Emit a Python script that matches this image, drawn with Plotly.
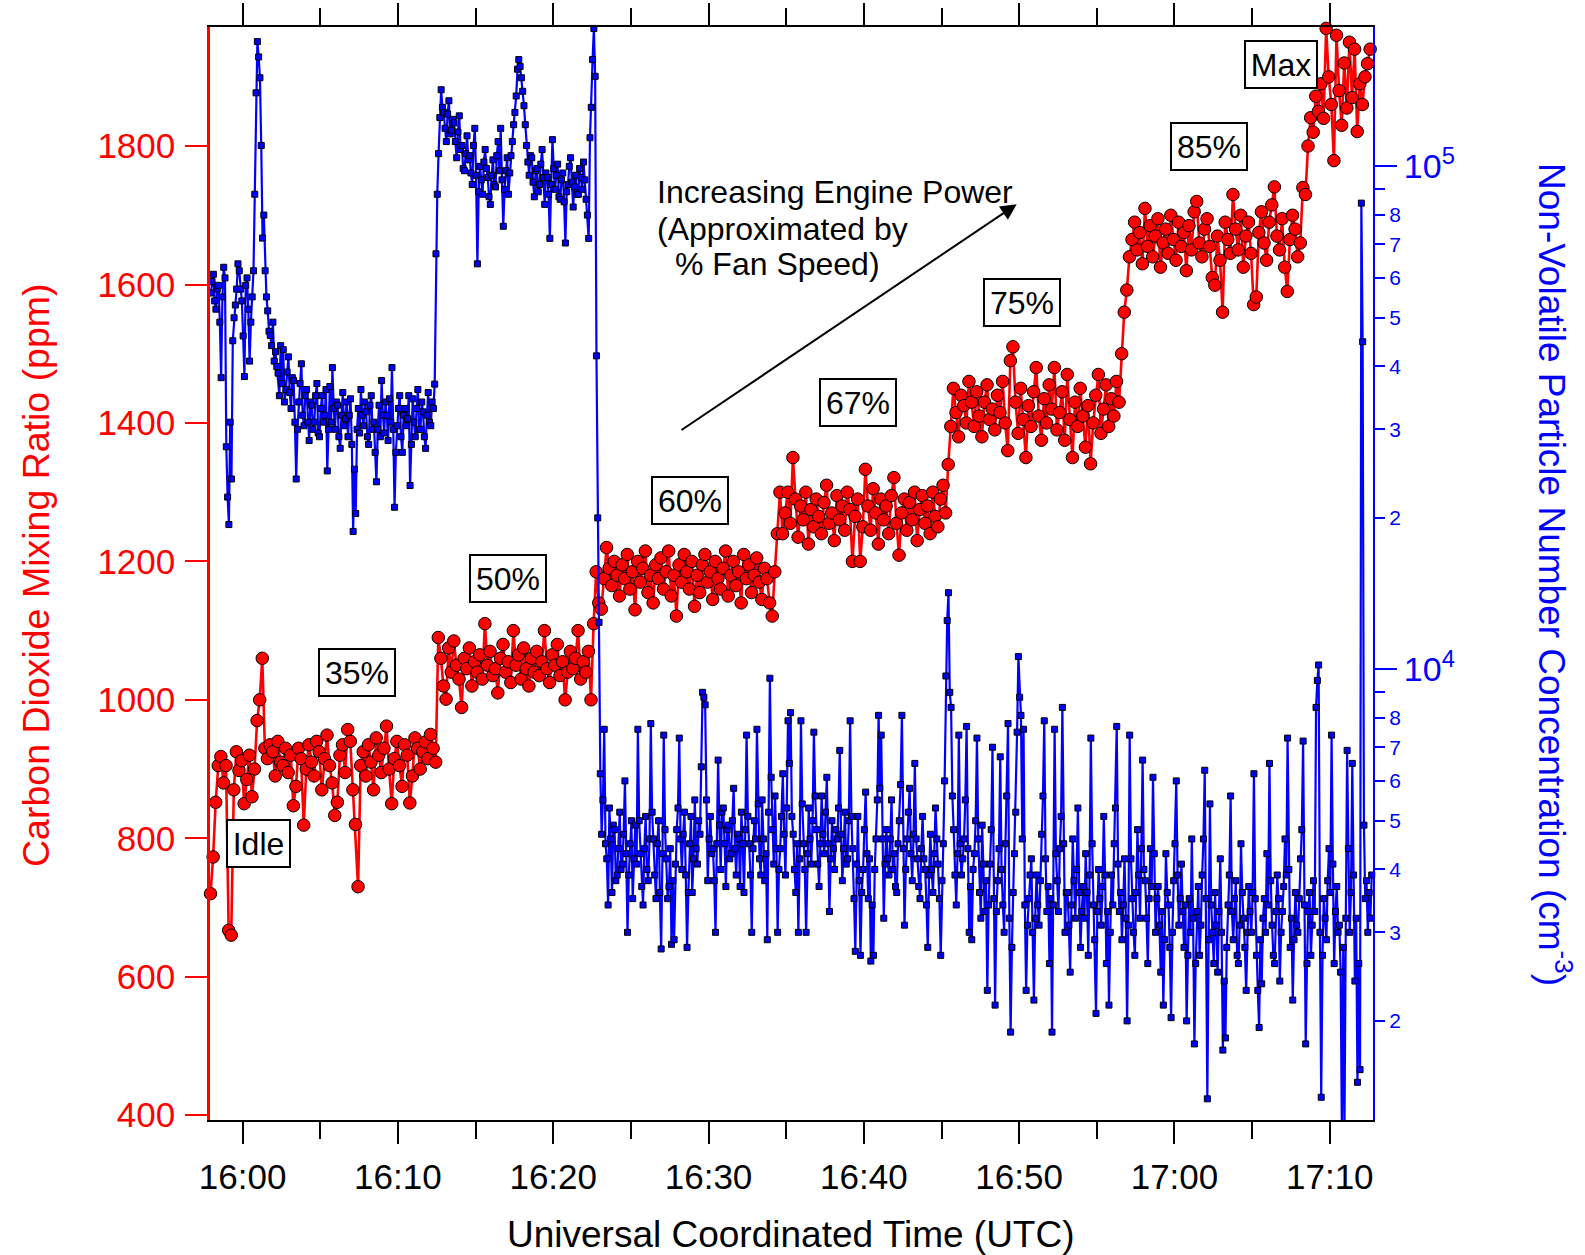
import pandas as pd
import plotly.graph_objects as go

# ---------------- data ----------------
co2_start = "2015-01-01 15:57:56"
co2_step = "10s"
nvpm_start = "2015-01-01 15:57:57"
nvpm_step = "5s"

# CO2 mixing ratio (ppm), one list per engine setting
co2_idle = [720, 773, 852, 905, 918, 880,
            905, 667, 660, 870, 925, 898,
            912, 850, 885, 920, 860, 900,
            970, 1000, 1060, 930, 915, 935,
            925, 890, 940, 910, 905, 930,
            895, 920, 847, 875, 930, 915,
            819, 900, 935, 910, 890, 940,
            925, 870, 915, 949, 905, 880,
            833, 852, 920, 935, 895, 957,
            940, 870, 820, 730, 905, 925,
            890, 935, 910, 870, 945, 920,
            895, 930, 962, 900, 850, 915,
            940, 905, 875, 935, 920, 851,
            890, 945, 930, 900, 925, 939,
            915, 950, 930, 910]
co2_50 = [1090, 1060, 1020, 1001, 1075, 1040,
          1085, 1050, 1030, 989, 1060, 1045,
          1075, 1020, 1055, 1040, 1065, 1030,
          1110, 1050, 1070, 1035, 1045, 1010,
          1060, 1080, 1040, 1055, 1025, 1100,
          1050, 1065, 1030, 1075, 1045, 1020,
          1060, 1040, 1070, 1035, 1055, 1100,
          1045, 1025, 1065, 1050, 1080, 1035,
          1055, 1000, 1040, 1070, 1045, 1060,
          1100, 1030, 1055, 1040, 1070, 1000,
          1110]
co2_60 = [1185, 1140, 1131, 1175, 1220, 1190,
          1165, 1200, 1180, 1150, 1195, 1175,
          1210, 1160, 1185, 1130, 1200, 1170,
          1190, 1215, 1155, 1180, 1140, 1195,
          1175, 1205, 1160, 1185, 1215, 1150,
          1180, 1121, 1195, 1170, 1210, 1185,
          1160, 1200, 1135, 1180, 1155, 1195,
          1210, 1170, 1185, 1145, 1200, 1175,
          1160, 1190, 1215, 1150, 1180, 1200,
          1165, 1185, 1140, 1210, 1175, 1195,
          1155, 1180, 1205, 1170, 1145, 1190,
          1175, 1140, 1121, 1185]
co2_67 = [1240, 1300, 1240, 1270, 1300, 1255,
          1350, 1290, 1235, 1280, 1260, 1300,
          1225, 1275, 1250, 1290, 1265, 1240,
          1285, 1310, 1255, 1270, 1230, 1295,
          1260, 1280, 1245, 1300, 1275, 1200,
          1265, 1290, 1200, 1250, 1333, 1280,
          1245, 1305, 1270, 1225, 1290, 1260,
          1280, 1240, 1295, 1321, 1255, 1209,
          1270, 1290, 1245, 1285, 1260, 1300,
          1230, 1275, 1295, 1255, 1280, 1240,
          1300, 1265, 1250, 1290, 1310, 1270,
          1340]
co2_75 = [1395, 1450, 1415, 1380, 1440, 1425,
          1400, 1460, 1430, 1395, 1445, 1410,
          1380, 1430, 1455, 1405, 1420, 1390,
          1440, 1415, 1460, 1400, 1360, 1490,
          1510, 1430, 1385, 1450, 1405, 1350,
          1425, 1395, 1445, 1480, 1410, 1375,
          1435, 1400, 1455, 1420, 1480, 1390,
          1415, 1445, 1375, 1470, 1405, 1350,
          1430, 1395, 1450, 1410, 1365, 1425,
          1341, 1400, 1440, 1470, 1385, 1420,
          1455, 1395, 1435, 1410, 1460, 1430,
          1500]
co2_85 = [1560, 1592, 1640, 1665, 1690, 1650,
          1675, 1630, 1710, 1655, 1685, 1640,
          1670, 1695, 1625, 1660, 1680, 1645,
          1700, 1665, 1635, 1690, 1655, 1675,
          1620, 1685, 1650, 1705, 1720, 1660,
          1640, 1680, 1695, 1655, 1610, 1599,
          1670, 1635, 1560, 1690, 1665, 1645,
          1730, 1680, 1650, 1700, 1625, 1670,
          1690, 1645, 1571, 1582, 1675, 1705,
          1660, 1635, 1690, 1715, 1741, 1670,
          1650, 1695, 1625, 1590, 1665, 1700,
          1680, 1640, 1660]
co2_max = [1740, 1730, 1800, 1841, 1820, 1872,
           1850, 1890, 1840, 1970, 1900, 1860,
           1779, 1960, 1880, 1830, 1920, 1855,
           1950, 1870, 1940, 1821, 1890, 1860,
           1900, 1919, 1940]

# Non-volatile particle number concentration, in thousands per cm^3 (5 s sampling)
nvpm_idle_k = [56, 59, 61, 54, 52, 57, 58, 49, 38, 55, 63, 60,
               27.7, 22, 19.4, 31, 23.9, 45, 50, 53, 57, 64, 62, 57,
               54, 46, 38.2, 58, 60, 52, 41, 49, 55, 62,
               88, 140, 177, 165, 150, 110, 72, 80, 62, 55,
               51.6, 47, 46.1, 44, 49, 41, 42.8, 40, 38.8, 35, 44, 37,
               43.2, 34, 36, 39, 41.8, 35.5, 33, 38, 37.5, 31, 23.9, 30,
               34, 37, 40.5, 32, 30.5, 35, 36, 31, 28.5, 34, 33.5, 30,
               31, 35, 37, 29.5, 29, 33, 35, 31, 32, 36, 24.8, 30,
               36.5, 31, 39.8, 33, 30, 34, 33.5, 29, 27.5, 32, 35.5, 30.5,
               31.5, 34, 29, 32, 34.5, 28, 18.8, 25, 20.4, 30, 33, 29.5,
               36, 32, 30.5, 34, 32.5, 29, 28, 33.5, 35, 30, 31, 27,
               23.6, 30, 33.5, 29, 37.5, 32, 29.5, 34, 32, 28.5, 34.5, 31,
               39.8, 30, 21, 27, 30.5, 33, 35, 29, 27, 32, 33, 30.5,
               31.5, 35, 23.2, 28, 34.5, 31, 29, 33, 36, 30, 30, 34,
               32.5, 29, 27.5, 32, 35.5, 31, 30.5, 34, 33, 36.9]
nvpm_50_k = [67, 88,
             106, 125, 142, 131, 128, 119, 112, 127, 135, 116, 118, 124,
             122, 112, 104, 117, 126, 108, 110, 99, 98, 106, 115, 103,
             105, 97, 92, 110, 119, 96, 64, 89, 100, 94, 88, 102,
             108, 99, 95, 87, 84, 96, 103, 92, 91, 105, 112, 98,
             119, 94, 76, 90, 98, 104, 88, 97, 105, 112, 121, 128,
             138, 156, 163, 158, 150, 141, 132, 121, 110, 102, 96, 105,
             104, 93, 87, 98, 99, 89, 92, 101, 108, 95, 84, 97,
             95, 88, 71.9, 92, 113, 99, 90, 96, 101, 87, 86, 94,
             97, 85, 70.4, 89, 92, 100, 104, 93, 83, 91, 96, 88,
             88, 99, 95, 90, 102, 94, 86, 80, 71.9, 114, 131, 163,
             188, 151, 42, 20, 12.4, 6.2]
nvpm_mid_k = [4.7, 5.5,
              7.6, 4.5, 4.2, 3.4, 5.3, 4.6, 3.6, 4.9, 4.8, 3.8, 3.9, 4.4,
              5.2, 4.0, 4.1, 4.7, 6.0, 4.3, 3.0, 3.9, 4.5, 5.0, 3.5, 4.2,
              4.9, 4.1, 7.6, 5.0, 4.3, 3.7, 3.4, 4.4, 5.1, 4.0, 3.8, 4.6,
              7.8, 5.2, 4.6, 3.9, 3.5, 4.5, 5.0, 3.6, 2.78, 4.3, 7.4, 4.8,
              4.2, 3.5, 3.7, 4.4, 2.84, 3.8, 2.9, 4.1, 4.8, 5.3, 7.3, 4.6,
              4.0, 4.7, 5.2, 3.9, 2.8, 3.6, 4.5, 5.1, 3.6, 4.2, 5.5, 4.4,
              4.1, 5.0, 4.7, 6.4, 9.0, 8.8, 8.5, 5.5, 3.8, 4.6, 5.1, 4.3,
              4.4, 3.8, 3.0, 4.5, 6.6, 4.9, 4.0, 5.2, 5.3, 4.5, 3.7, 4.8,
              4.9, 4.2, 4.3, 5.0, 5.8, 4.4, 3.9, 4.7, 4.6, 3.7, 5.2, 4.5,
              3.6, 4.8, 7.4, 5.1, 4.5, 3.9, 3.0, 4.4, 5.0, 4.6, 7.6, 5.4,
              4.2, 3.9, 5.5, 4.6, 3.8, 4.3, 2.9, 5.2, 9.6, 6.1, 4.8, 4.1,
              5.6, 4.4, 3.0, 4.0, 4.4, 5.1, 6.2, 4.7, 3.9, 5.3, 7.9, 6.5,
              8.2, 5.1, 4.7, 4.0, 3.6, 4.5, 3.0, 4.2, 7.9, 5.4, 4.5, 4.0,
              3.0, 4.3, 5.3, 4.6, 4.1, 5.0, 7.5, 5.6, 4.8, 4.1, 3.7, 4.5,
              5.6, 4.7, 4.3, 5.2, 6.1, 4.5, 3.3, 4.2, 5.0, 4.4, 4.0, 4.8,
              4.6, 5.3, 6.9, 4.7, 3.8, 4.4, 5.2, 4.1, 4.2, 5.0, 7.9, 5.1,
              4.4, 3.5, 2.75, 4.1, 5.1, 3.8, 2.7, 3.6, 4.0, 4.8, 5.7, 4.3,
              3.5, 4.2, 2.63, 3.4, 2.7, 4.0, 4.6, 5.5, 8.1, 5.8, 7.4, 4.6,
              3.2, 4.1, 4.8, 4.2, 3.9, 4.6, 5.5, 4.0, 4.3, 3.7, 3.6, 4.5,
              5.0, 5.9, 8.1, 4.4, 3.1, 4.0, 4.6, 5.2, 5.8, 4.3, 3.8, 4.7,
              6.5, 4.6, 4.2, 3.7, 3.5, 4.4, 5.1, 4.2, 4.0, 3.4, 2.8, 3.9,
              4.7, 4.0, 3.6, 4.3, 5.3, 4.6, 4.1, 3.5, 2.7, 3.8, 4.5, 6.0,
              9.7, 12.5, 14.2, 9.0, 8.4, 5.6, 4.8, 3.9, 3.4, 4.3]
nvpm_high_k = [7.4, 4.5, 3.9, 4.2, 4.6, 5.5, 7.7, 4.4, 3.0, 3.7, 2.9, 4.0,
               4.3, 5.0, 7.3, 4.6, 3.6, 3.2, 4.9, 4.1, 3.3, 3.8, 2.3, 3.4,
               4.1, 4.8, 7.0, 3.5, 2.15, 3.3, 3.8, 4.4, 6.7, 4.0, 3.4, 3.0,
               4.5, 5.6, 7.8, 3.2, 1.9, 2.8, 3.6, 4.3, 5.2, 7.5, 10.6, 8.8,
               8.1, 4.6, 7.6, 3.4, 2.3, 3.1, 3.5, 3.9, 4.2, 3.0, 2.2, 3.2,
               3.9, 3.4, 3.1, 3.8, 4.7, 5.6, 7.9, 4.2, 3.3, 3.7, 2.6, 3.5,
               1.9, 3.4, 7.6, 4.3, 3.8, 3.3, 4.4, 5.1, 8.4, 4.5, 3.0, 3.6,
               3.6, 3.1, 2.5, 3.4, 4.6, 3.8, 3.2, 4.0, 5.3, 3.6, 2.8, 3.3,
               3.7, 3.2, 4.3, 3.6, 2.7, 3.9, 7.3, 4.5, 3.4, 2.9, 2.07, 3.3,
               4.0, 3.5, 3.1, 3.7, 5.1, 3.9, 2.6, 3.3, 2.15, 3.0, 3.9, 3.4,
               4.5, 5.3, 7.7, 4.1, 3.3, 3.6, 2.9, 3.4, 4.2, 3.2, 2.0, 3.1,
               7.4, 4.2, 3.5, 3.0, 2.7, 3.6, 4.8, 3.9, 3.2, 4.4, 6.6, 4.0,
               3.8, 3.2, 2.6, 3.5, 4.4, 3.7, 6.1, 4.3, 3.0, 3.5, 3.7, 3.1,
               2.5, 3.3, 2.15, 2.9, 4.3, 3.6, 3.4, 2.8, 2.03, 3.0, 3.8, 4.5,
               6.0, 3.9, 3.1, 3.5, 4.1, 3.3, 2.8, 3.4, 2.0, 2.7, 3.5, 3.0,
               4.6, 3.2, 1.8, 2.6, 3.3, 3.7, 2.7, 3.1, 3.9, 4.6, 6.3, 3.5,
               1.4, 2.9, 5.4, 3.4, 3.0, 2.6, 3.6, 3.1, 2.5, 3.3, 4.2, 3.0,
               1.75, 2.4, 1.85, 2.8, 3.4, 3.9, 5.6, 3.3, 2.9, 3.5, 3.8, 2.7,
               2.6, 3.1, 4.5, 3.6, 3.2, 2.8, 2.3, 3.0, 3.7, 3.3, 3.0, 3.6,
               6.2, 3.5, 2.7, 2.3, 1.94, 2.9, 2.37, 3.2, 3.5, 3.0, 4.3, 3.4,
               6.5, 3.8, 3.1, 2.7, 2.6, 3.3, 3.9, 3.5, 2.4, 3.0, 3.3, 3.7,
               4.6, 3.9, 7.3, 4.0, 2.8, 3.2, 2.2, 2.9, 3.6, 3.1, 3.0, 3.5,
               4.2, 4.8, 7.2, 3.4, 1.8, 2.6, 3.3, 3.6, 2.7, 3.1, 3.8, 3.3,
               8.4, 9.5, 10.2, 3.0, 1.41, 2.7, 3.5, 3.2, 2.9, 3.8, 4.4, 3.6,
               7.4, 4.1, 2.6, 3.3, 3.7, 3.0, 3.1, 2.5, 1.15, 2.8, 1.27, 3.2,
               6.9, 4.4, 3.0, 3.6, 6.5, 3.9, 2.4, 3.2, 1.51, 2.6, 1.6, 84.5,
               44.8, 4.9, 3.5, 3.8, 3.0, 3.6, 3.2, 3.9]

stage_labels = ["Idle", "35%", "50%", "60%", "67%", "75%", "85%", "Max"]
power_text = ["Increasing Engine Power", "(Approximated by", "% Fan Speed)"]

x_range = ["2015-01-01 15:57:54", "2015-01-01 17:12:47"]
co2_range = [393, 1972]
co2_ticks = [400, 600, 800, 1000, 1200, 1400, 1600, 1800]
nvpm_log_range = [3.104, 5.277]
major_vals = [1e4, 1e5]
major_text = ["10<sup>4</sup>", "10<sup>5</sup>"]
minor_vals = [m * d for d in (1e3, 1e4) for m in range(2, 10)]
minor_text = [str(m) if m < 9 else "" for d in (1e3, 1e4) for m in range(2, 10)]

co2 = co2_idle + co2_50 + co2_60 + co2_67 + co2_75 + co2_85 + co2_max
nvpm = [v * 1000 for v in nvpm_idle_k + nvpm_50_k + nvpm_mid_k + nvpm_high_k]
t_co2 = pd.date_range(co2_start, periods=len(co2), freq=co2_step)
t_nvpm = pd.date_range(nvpm_start, periods=len(nvpm), freq=nvpm_step)

# ---------------- figure ----------------
W, H = 1585, 1255
ML, MR, MT, MB = 210, 212, 27, 135
PW, PH = W - ML - MR, H - MT - MB
FONT = "Liberation Sans, Arial, sans-serif"
RED, BLUE = "#FF0000", "#0000FF"


def px(xp):
    return (xp - ML) / PW


def py(yp):
    return (H - MB - yp) / PH


fig = go.Figure()
fig.add_trace(go.Scatter(
    x=t_co2, y=co2, mode="lines+markers", yaxis="y", cliponaxis=False,
    line=dict(color=RED, width=2.6),
    marker=dict(symbol="circle", size=12.5, color=RED, line=dict(color="black", width=1)),
    showlegend=False, hoverinfo="skip"))
fig.add_trace(go.Scatter(
    x=t_nvpm, y=nvpm, mode="lines+markers", yaxis="y2", cliponaxis=False,
    line=dict(color=BLUE, width=2.2),
    marker=dict(symbol="square", size=6, color=BLUE, line=dict(color="black", width=1)),
    showlegend=False, hoverinfo="skip"))
fig.add_trace(go.Scatter(x=[], y=[], yaxis="y3", showlegend=False, hoverinfo="skip"))

# stage boxes: (center x px, center y px, total width px)
box_pos = [(258.3, 843.7, 65), (356.5, 672.6, 78), (508, 578.5, 78), (690.2, 500.6, 78),
           (857.8, 402.3, 78), (1021.5, 302, 78), (1209, 146, 78), (1281.4, 64, 74)]
ann = []
for lab, (cx, cy, bw) in zip(stage_labels, box_pos):
    ann.append(dict(text=lab, x=px(cx), y=py(cy), xref="paper", yref="paper",
                    xanchor="center", yanchor="middle", showarrow=False,
                    font=dict(family=FONT, size=32, color="black"),
                    bgcolor="white", bordercolor="black", borderwidth=2, borderpad=2,
                    width=bw - 8, height=41))

for txt, (lx, ly) in zip(power_text, [(655, 192), (655, 229), (673, 264)]):
    ann.append(dict(text=txt, x=px(lx), y=py(ly), xref="paper", yref="paper",
                    xanchor="left", yanchor="middle", showarrow=False,
                    font=dict(family=FONT, size=32, color="black")))

head = (1016.7, 204.3)
tail = (680, 431)
ann.append(dict(text="", x=px(head[0]), y=py(head[1]), xref="paper", yref="paper",
                ax=tail[0] - head[0], ay=tail[1] - head[1], showarrow=True,
                arrowhead=2, arrowsize=1.6, arrowwidth=2, arrowcolor="black",
                standoff=0, startstandoff=0))

ann.append(dict(text="Carbon Dioxide Mixing Ratio (ppm)", textangle=-90,
                x=px(36), y=py(575), xref="paper", yref="paper",
                xanchor="center", yanchor="middle", showarrow=False,
                font=dict(family=FONT, size=37.5, color=RED)))
ann.append(dict(text="Non-Volatile Particle Number Concentration (cm<sup>-3</sup>)", textangle=90,
                x=px(1555), y=py(574), xref="paper", yref="paper",
                xanchor="center", yanchor="middle", showarrow=False,
                font=dict(family=FONT, size=37, color=BLUE)))
ann.append(dict(text="Universal Coordinated Time (UTC)",
                x=px(790.6), y=py(1234), xref="paper", yref="paper",
                xanchor="center", yanchor="middle", showarrow=False,
                font=dict(family=FONT, size=37, color="black")))

fig.update_layout(
    template="none",
    width=W, height=H, margin=dict(l=ML, r=MR, t=MT, b=MB, pad=0, autoexpand=False),
    paper_bgcolor="white", plot_bgcolor="white",
    font=dict(family=FONT, color="black"),
    annotations=ann,
    xaxis=dict(type="date", range=x_range, showgrid=False, zeroline=False, automargin=False,
               showline=True, linecolor="black", linewidth=2, mirror="ticks",
               ticks="outside", ticklen=22, tickwidth=1.5, tickcolor="black",
               tick0="2015-01-01 16:00", dtick=600000, tickformat="%H:%M",
               ticklabelstandoff=3,
               tickfont=dict(family=FONT, size=35, color="black"),
               minor=dict(ticks="outside", ticklen=17, tickwidth=1.5, tickcolor="black",
                          dtick=300000, tick0="2015-01-01 16:00", showgrid=False)),
    yaxis=dict(range=co2_range, showgrid=False, zeroline=False, automargin=False,
               showline=True, linecolor=RED, linewidth=2.5,
               ticks="outside", ticklen=22, tickwidth=2, tickcolor=RED,
               tickmode="array", tickvals=co2_ticks, ticklabelstandoff=3,
               tickfont=dict(family=FONT, size=35, color=RED)),
    yaxis2=dict(type="log", range=nvpm_log_range, overlaying="y", side="right", anchor="x",
                showgrid=False, zeroline=False, automargin=False,
                showline=True, linecolor=BLUE, linewidth=2,
                ticks="outside", ticklen=22, tickwidth=2, tickcolor=BLUE,
                tickmode="array", tickvals=major_vals, ticktext=major_text,
                tickfont=dict(family=FONT, size=34, color=BLUE)),
    yaxis3=dict(type="log", range=nvpm_log_range, overlaying="y", side="right", anchor="x",
                showgrid=False, zeroline=False, showline=False, automargin=False,
                ticks="outside", ticklen=11, tickwidth=2, tickcolor=BLUE,
                tickmode="array", tickvals=minor_vals, ticktext=minor_text,
                tickfont=dict(family=FONT, size=21, color=BLUE)),
)

fig.write_html("out.html", config={"displayModeBar": False},
               post_script="document.body.style.margin='0';")
